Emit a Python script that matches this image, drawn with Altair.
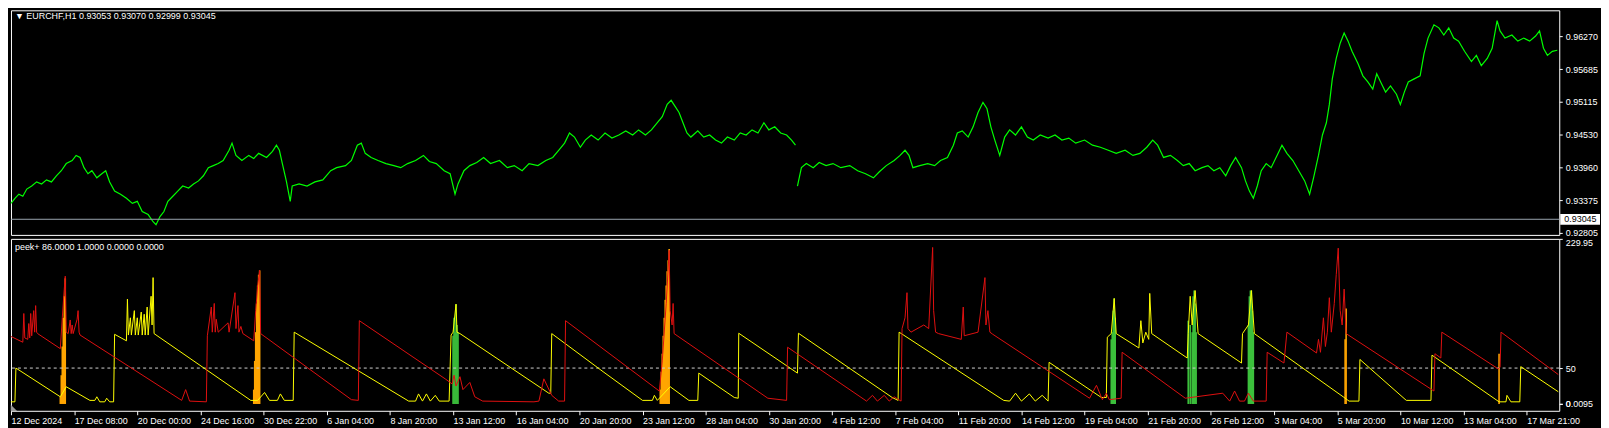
import altair as alt
import pandas as pd

W = 1558
H1 = 226
H2 = 173
XMAX = 1569
FONT = "Liberation Sans"

TITLE_TOP = "\u25BC  EURCHF,H1  0.93053 0.93070 0.92999 0.93045"
TITLE_BOT = "peek+ 86.0000 1.0000 0.0000 0.0000"

TICK_BARS = [0, 64, 128, 192, 256, 320, 384, 448, 512, 576, 640, 704, 768,
             832, 896, 960, 1024, 1088, 1152, 1216, 1280, 1344, 1408, 1472, 1536]
TICK_LABELS = ["12 Dec 2024", "17 Dec 08:00", "20 Dec 00:00", "24 Dec 16:00",
               "30 Dec 22:00", "6 Jan 04:00", "8 Jan 20:00", "13 Jan 12:00",
               "16 Jan 04:00", "20 Jan 20:00", "23 Jan 12:00", "28 Jan 04:00",
               "30 Jan 20:00", "4 Feb 12:00", "7 Feb 04:00", "11 Feb 20:00",
               "14 Feb 12:00", "19 Feb 04:00", "21 Feb 20:00", "26 Feb 12:00",
               "3 Mar 04:00", "5 Mar 20:00", "10 Mar 12:00", "13 Mar 04:00",
               "17 Mar 21:00"]

PRICE_TICKS = [0.96270, 0.95685, 0.95115, 0.94530, 0.93960, 0.93375, 0.92805]
LAST_PRICE = 0.93045
GAP_AFTER = 796

PRICE_X = [0, 4, 8, 12, 16, 21, 26, 31, 36, 41, 46, 51, 56, 62, 66, 70, 74, 78, 82,
           87, 92, 96, 100, 105, 111, 117, 123, 128, 133, 139, 144, 147, 151, 155,
           159, 164, 169, 174, 180, 185, 190, 195, 200, 205, 210, 215, 221, 224, 228,
           234, 241, 246, 251, 259, 265, 269, 272, 275, 279, 283, 285, 292, 300, 308,
           316, 324, 330, 339, 345, 351, 355, 359, 365, 372, 380, 388, 395, 402, 410,
           418, 424, 431, 439, 445, 450, 453, 459, 465, 472, 479, 486, 495, 503, 510,
           518, 525, 534, 542, 549, 555, 561, 566, 571, 577, 582, 588, 595, 602, 609,
           616, 623, 630, 636, 643, 649, 655, 660, 665, 669, 673, 677, 681, 685, 689,
           696, 702, 708, 714, 720, 726, 733, 739, 745, 751, 757, 763, 768, 774, 780,
           786, 791, 795,
           797, 801, 806, 813, 819, 826, 833, 841, 850, 858, 866, 874, 880, 887, 895,
           901, 906, 910, 914, 921, 929, 936, 942, 949, 955, 959, 964, 970, 975, 980,
           985, 989, 993, 997, 1002, 1007, 1012, 1018, 1024, 1030, 1036, 1043, 1051,
           1058, 1065, 1072, 1079, 1088, 1096, 1104, 1112, 1120, 1129, 1137, 1144,
           1151, 1157, 1162, 1168, 1175, 1182, 1188, 1194, 1200, 1207, 1213, 1219,
           1225, 1231, 1236, 1241, 1247, 1251, 1255, 1259, 1263, 1267, 1272, 1277,
           1283, 1288, 1293, 1299, 1305, 1311, 1316, 1320, 1325, 1329, 1333, 1336,
           1339, 1343, 1347, 1351, 1355, 1359, 1365, 1370, 1375, 1380, 1384, 1388,
           1393, 1398, 1404, 1408, 1412, 1416, 1422, 1428, 1432, 1436, 1442, 1447,
           1452, 1457, 1462, 1467, 1473, 1480, 1485, 1490, 1496, 1501, 1506, 1509,
           1514, 1521, 1527, 1533, 1539, 1545, 1549, 1553, 1557, 1562, 1567]
PRICE_Y = [0.93325, 0.93415, 0.93487, 0.93451, 0.93577, 0.93631, 0.93703, 0.93667,
           0.93739, 0.93703, 0.93811, 0.93900, 0.94026, 0.94080, 0.94170, 0.94134,
           0.93954, 0.93847, 0.93900, 0.93775, 0.93847, 0.93900, 0.93703, 0.93541,
           0.93487, 0.93415, 0.93325, 0.93361, 0.93182, 0.93128, 0.93002, 0.92948,
           0.93092, 0.93182, 0.93361, 0.93451, 0.93541, 0.93631, 0.93595, 0.93667,
           0.93721, 0.93811, 0.93954, 0.93990, 0.94026, 0.94080, 0.94260, 0.94386,
           0.94170, 0.94080, 0.94170, 0.94116, 0.94206, 0.94134, 0.94242, 0.94350,
           0.94260, 0.94026, 0.93721, 0.93361, 0.93631, 0.93667, 0.93631, 0.93703,
           0.93739, 0.93900, 0.93954, 0.93990, 0.94080, 0.94350, 0.94386, 0.94206,
           0.94134, 0.94080, 0.94026, 0.93990, 0.93954, 0.94026, 0.94080, 0.94170,
           0.94062, 0.94026, 0.93900, 0.93847, 0.93487, 0.93667, 0.93900, 0.93990,
           0.94044, 0.94134, 0.94026, 0.94080, 0.93954, 0.93990, 0.93900, 0.94026,
           0.93990, 0.94080, 0.94134, 0.94260, 0.94386, 0.94565, 0.94493, 0.94314,
           0.94440, 0.94529, 0.94440, 0.94565, 0.94475, 0.94529, 0.94601, 0.94529,
           0.94619, 0.94529, 0.94619, 0.94745, 0.94853, 0.95068, 0.95140, 0.95032,
           0.94925, 0.94745, 0.94565, 0.94493, 0.94601, 0.94493, 0.94529, 0.94440,
           0.94386, 0.94493, 0.94440, 0.94565, 0.94529, 0.94619, 0.94565, 0.94745,
           0.94619, 0.94673, 0.94565, 0.94529, 0.94440, 0.94350,
           0.93631, 0.93954, 0.94026, 0.93954, 0.94044, 0.93990, 0.94026, 0.93954,
           0.93990, 0.93900, 0.93847, 0.93775, 0.93882, 0.93990, 0.94080, 0.94170,
           0.94260, 0.94170, 0.93954, 0.93990, 0.94026, 0.93990, 0.94080, 0.94134,
           0.94350, 0.94565, 0.94601, 0.94493, 0.94673, 0.94925, 0.95104, 0.94997,
           0.94673, 0.94440, 0.94170, 0.94493, 0.94619, 0.94529, 0.94673, 0.94493,
           0.94440, 0.94529, 0.94475, 0.94529, 0.94440, 0.94475, 0.94386, 0.94440,
           0.94350, 0.94314, 0.94260, 0.94206, 0.94260, 0.94170, 0.94206, 0.94314,
           0.94440, 0.94350, 0.94134, 0.94170, 0.94080, 0.93990, 0.94026, 0.93900,
           0.93954, 0.93990, 0.93900, 0.93954, 0.93811, 0.93990, 0.94134, 0.93954,
           0.93721, 0.93541, 0.93415, 0.93631, 0.93900, 0.94026, 0.93954, 0.94170,
           0.94350, 0.94206, 0.94080, 0.93900, 0.93721, 0.93487, 0.93775, 0.94170,
           0.94529, 0.94745, 0.95068, 0.95517, 0.95877, 0.96146, 0.96326, 0.96182,
           0.96003, 0.95787, 0.95571, 0.95464, 0.95338, 0.95607, 0.95464, 0.95284,
           0.95392, 0.95248, 0.95068, 0.95284, 0.95464, 0.95517, 0.95571, 0.95967,
           0.96236, 0.96470, 0.96416, 0.96290, 0.96416, 0.96236, 0.96182, 0.96003,
           0.95823, 0.95931, 0.95751, 0.95877, 0.96057, 0.96542, 0.96362, 0.96236,
           0.96290, 0.96182, 0.96236, 0.96182, 0.96272, 0.96362, 0.96057, 0.95931,
           0.96003, 0.96021]

IND_TICKS = [229.95, 50, 0.0095, 0]
IND_LABELS = ["229.95", "50", "0.0095", "0"]
LEVEL = 50

RED_X = [0, 12, 13, 14, 17, 18, 19, 20, 21, 23, 24, 25, 26, 27, 50, 52, 54, 55, 56,
         58, 60, 61, 62, 63, 67, 68, 69, 70, 173, 177, 181, 198,
         199, 203, 204, 206, 207, 208, 210, 220, 221, 227, 228, 230, 231, 233, 235,
         246, 248, 250, 252, 253, 345, 352,
         353, 440, 447, 449, 451, 455, 458, 465, 470, 478, 530, 535, 540, 548, 555, 561,
         562, 657, 660, 664, 667, 668, 670, 671, 672, 767, 786,
         787, 867, 873, 878, 885, 890, 895, 902, 903, 906, 908, 909, 912, 925, 930,
         934, 935, 937, 940, 963, 965, 966, 980, 987, 988, 990, 992, 995, 1093,
         1100, 1106, 1110, 1113, 1125, 1126, 1190, 1228, 1235, 1240, 1245, 1250, 1254,
         1259, 1272, 1273, 1290, 1293, 1323,
         1325, 1327, 1330, 1332, 1334, 1336, 1338, 1341, 1343, 1345, 1347, 1349, 1351,
         1353, 1442, 1443, 1449, 1450, 1507, 1509, 1510, 1568]
RED_V = [94, 86, 126, 92, 90, 112, 92, 126, 95, 130, 100, 137, 100, 98, 77, 120, 160,
         178, 100, 98, 117, 98, 110, 98, 118, 130, 100, 96, 5, 20, 4, 3,
         95, 135, 100, 140, 100, 118, 100, 113, 100, 155, 105, 137, 100, 108, 98,
         88, 130, 165, 186, 98, 6, 5,
         116, 35, 28, 40, 25, 38, 20, 30, 10, 4, 3, 4, 35, 12, 4, 4,
         116, 18, 60, 140, 214, 130, 110, 140, 98, 8, 5,
         79, 4, 12, 4, 12, 4, 10, 4, 105, 120, 155, 105, 100, 110, 105,
         218, 130, 100, 98, 90, 135, 95, 100, 176, 110, 130, 100, 97, 8,
         26, 6, 15, 6, 8, 72, 8, 15, 4, 18, 4, 4, 15,
         4, 4, 72, 57, 100, 71,
         90, 72, 120, 80, 100, 148, 100, 140, 180, 217, 130, 110, 160,
         98, 18, 70, 64, 100, 49, 51, 100, 41]

YEL_X = [0, 4, 5, 50, 56, 80, 85, 87, 90, 95, 97, 100, 104, 105, 117, 118, 119, 121,
         122, 125, 126, 128, 129, 132, 133, 135, 136, 138, 139, 142, 143, 144, 145,
         243, 250, 257, 262, 270, 273, 277, 286, 287, 403, 410, 413, 417, 421, 425,
         430, 434, 444, 446, 448, 451, 452, 455, 545, 547, 548, 600, 640, 650, 652,
         655, 668, 687, 696, 697, 733, 737, 737.5, 797, 798, 893, 899, 900, 1006,
         1012, 1018, 1024, 1032, 1038, 1045, 1051, 1052, 1105, 1110, 1111, 1115, 1118,
         1120, 1143, 1145, 1147, 1150, 1153, 1154, 1156, 1192, 1193, 1195, 1197, 1200,
         1203, 1247, 1248, 1254, 1257, 1260, 1350, 1356, 1366, 1367, 1414, 1439, 1440,
         1508, 1515, 1516, 1520, 1529, 1530, 1568]
YEL_V = [3, 3, 50, 10, 24, 5, 5, 10, 3, 3, 8, 3, 3, 97, 88, 146, 96, 120,
         96, 130, 96, 120, 96, 128, 96, 125, 96, 135, 96, 150, 110, 176, 98,
         5, 5, 16, 5, 5, 14, 5, 5, 100, 4, 4, 14, 4, 14, 4,
         12, 4, 4, 96, 100, 139, 100, 98, 15, 15, 98, 45, 5, 5, 12,
         5, 24, 5, 5, 43, 9, 8, 98.5, 43, 98.5, 9, 5, 100, 5,
         4, 15, 4, 14, 4, 12, 4, 58, 9, 9, 93, 98, 147,
         98, 78, 116, 85, 100, 90, 154, 98, 64, 98, 150, 110, 158,
         98, 57, 98, 110, 158, 98, 10, 4, 4, 62, 5, 5, 68,
         3, 3, 12, 3, 3, 52, 17]

ORANGE_X = [50, 51, 52, 53, 54, 55, 246, 247, 248, 249, 250, 251, 252,
            658, 659, 660, 661, 662, 663, 664, 665, 666, 667, 1352, 1353, 1508]
ORANGE_V = [10, 40, 80, 120, 150, 175, 20, 60, 100, 140, 165, 180, 186,
            20, 45, 70, 95, 120, 145, 165, 185, 200, 216, 90, 133, 70]

GREEN_X = [448, 449, 450, 451, 452, 453, 1115, 1116, 1117, 1118, 1119,
           1193, 1195, 1197, 1198, 1199, 1200, 1201, 1254, 1255, 1256, 1257, 1258, 1259]
GREEN_V = [95, 120, 100, 139, 110, 100, 90, 100, 130, 147, 120,
           116, 110, 100, 150, 158, 140, 100, 110, 150, 158, 158, 130, 100]

price_df = pd.DataFrame({"x": PRICE_X, "p": PRICE_Y})
price_df["seg"] = (price_df["x"] > GAP_AFTER).astype(int)
red_df = pd.DataFrame({"x": RED_X, "v": RED_V})
yel_df = pd.DataFrame({"x": YEL_X, "v": YEL_V})
org_df = pd.DataFrame({"x": ORANGE_X, "v": ORANGE_V})
grn_df = pd.DataFrame({"x": GREEN_X, "v": GREEN_V})
one = pd.DataFrame({"k": [0]})

xs = alt.Scale(domain=[0, XMAX], nice=False, zero=False)
ys_top = alt.Scale(domain=[0.9277, 0.96725], nice=False, zero=False)
ys_bot = alt.Scale(domain=[-9.5, 229.95], nice=False, zero=False)


def arr(vals, quote):
    if quote:
        return "[" + ",".join("'" + str(v) + "'" for v in vals) + "]"
    return "[" + ",".join(str(v) for v in vals) + "]"


x_label_expr = arr(TICK_LABELS, True) + "[indexof(" + arr(TICK_BARS, False) + ", datum.value)]"
y2_label_expr = arr(IND_LABELS, True) + "[indexof(" + arr(IND_TICKS, False) + ", datum.value)]"

# ---------- top panel ----------
price_line = alt.Chart(price_df).mark_line(color="#00ff00", strokeWidth=1.2).encode(
    x=alt.X("x:Q", scale=xs, axis=None),
    y=alt.Y("p:Q", scale=ys_top, title=None,
            axis=alt.Axis(orient="right", values=PRICE_TICKS, format=".5f",
                          tickCount=40, tickSize=3, labelPadding=3,
                          labelOverlap=False)),
    detail="seg:N",
)
last_rule = alt.Chart(one).mark_rule(color="#9aa4ae", strokeWidth=1).encode(
    y=alt.datum(LAST_PRICE)
)
box = alt.Chart(one).mark_rect(color="white").encode(
    x=alt.value(W + 1), x2=alt.value(W + 41),
    y=alt.datum(LAST_PRICE + 0.00095), y2=alt.datum(LAST_PRICE - 0.00095),
)
box_text = alt.Chart(one).mark_text(
    color="black", align="left", baseline="middle", font=FONT, fontSize=9
).encode(x=alt.value(W + 5), y=alt.datum(LAST_PRICE), text=alt.value(f"{LAST_PRICE:.5f}"))
title_top = alt.Chart(one).mark_text(
    color="white", align="left", baseline="top", font=FONT, fontSize=9
).encode(x=alt.value(4), y=alt.value(2), text=alt.value(TITLE_TOP))

top = alt.layer(price_line, last_rule, box, box_text, title_top).properties(
    width=W, height=H1)

# ---------- bottom panel ----------
org_bars = alt.Chart(org_df).mark_rule(color="#ffa500", strokeWidth=1.6).encode(
    x=alt.X("x:Q", scale=xs,
            axis=alt.Axis(values=TICK_BARS, labelExpr=x_label_expr, labelAlign="left",
                          labelBaseline="top", labelPadding=2, tickSize=4,
                          tickCount=60, labelFlush=False, labelOverlap=False,
                          title=None)),
    y=alt.Y("v:Q", scale=ys_bot, title=None,
            axis=alt.Axis(orient="right", values=IND_TICKS, labelExpr=y2_label_expr,
                          labelFlush=True, labelOverlap=False, tickSize=3,
                          tickCount=20, labelPadding=3)),
    y2=alt.datum(0),
)
grn_bars = alt.Chart(grn_df).mark_rule(color="#3cc03c", strokeWidth=1.6).encode(
    x=alt.X("x:Q", scale=xs), y=alt.Y("v:Q", scale=ys_bot), y2=alt.datum(0))
level = alt.Chart(one).mark_rule(color="#d0d0d0", strokeWidth=1, strokeDash=[3, 3]).encode(
    y=alt.datum(LEVEL))
yel_line = alt.Chart(yel_df).mark_line(color="#ffff00", strokeWidth=1).encode(
    x=alt.X("x:Q", scale=xs), y=alt.Y("v:Q", scale=ys_bot))
red_line = alt.Chart(red_df).mark_line(color="#e01010", strokeWidth=1).encode(
    x=alt.X("x:Q", scale=xs), y=alt.Y("v:Q", scale=ys_bot))
title_bot = alt.Chart(one).mark_text(
    color="white", align="left", baseline="top", font=FONT, fontSize=9
).encode(x=alt.value(4), y=alt.value(4), text=alt.value(TITLE_BOT))
corner = alt.Chart(one).mark_point(
    shape="M-1,-1L-1,1L1,1Z", filled=True, color="#9a9a9a", size=40, opacity=1
).encode(x=alt.value(3), y=alt.value(H2 - 3))

bottom = alt.layer(org_bars, grn_bars, level, yel_line, red_line, title_bot, corner).properties(
    width=W, height=H2)

chart = alt.vconcat(top, bottom, spacing=4, bounds="flush").properties(
    padding=0, background="black"
).configure_view(
    stroke="white", strokeWidth=1, fill="black"
).configure_axis(
    labelColor="white", tickColor="white", domain=False, grid=False,
    labelFont=FONT, labelFontSize=9, labelOverlap=False,
)

chart.save("out.html", embed_options={"renderer": "svg", "actions": False})
